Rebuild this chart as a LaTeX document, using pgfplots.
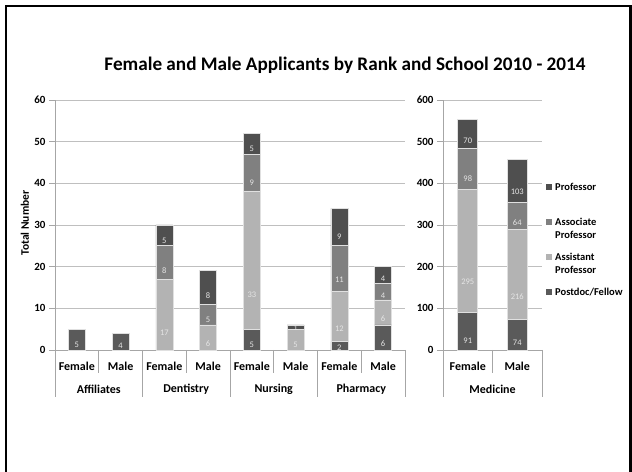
\documentclass[border=0pt]{standalone}
\usepackage{fontspec}
\setmainfont{Carlito}
\usepackage{pgfplots}
\pgfplotsset{compat=1.18}
\usepackage{pgfplotstable}

\definecolor{cPost}{HTML}{5A5A5A}
\definecolor{cAsst}{HTML}{B3B3B3}
\definecolor{cAssoc}{HTML}{808080}
\definecolor{cProf}{HTML}{4F4F4F}
\definecolor{cGrid}{HTML}{BFBFBF}
\definecolor{cAxis}{HTML}{A6A6A6}

% columns: slot, Postdoc/Fellow, Assistant, Associate, Professor
\pgfplotstableread{
x pd as ao pr
0 5 0 0 0
1 4 0 0 0
2 0 17 8 5
3 0 6 5 8
4 5 33 9 5
5 0 5 0 1
6 2 12 11 9
7 6 6 4 4
}\leftdata

\pgfplotstableread{
x pd as ao pr
0 91 295 98 70
1 74 216 64 103
}\meddata

\newcommand\tickfont{\fontsize{11bp}{13bp}\selectfont\bfseries}
\newcommand\catfont{\fontsize{12bp}{14bp}\selectfont\bfseries}

\pgfplotsset{
  appl/.style={
    scale only axis, height=250bp,
    ybar stacked, ymin=0,
    axis x line*=bottom, axis y line*=left,
    axis line style={cAxis, line width=0.8bp},
    every inner x axis line/.append style={-},
    every inner y axis line/.append style={-},
    every outer x axis line/.append style={-},
    every outer y axis line/.append style={-},
    x axis line style={-}, y axis line style={-},
    ymajorgrids, grid style={cGrid, line width=0.8bp},
    ytick align=outside, major tick length=6bp,
    ytick style={cAxis, line width=0.8bp},
    xtick style={draw=none},
    /pgf/number format/assume math mode=true,
    yticklabel style={font=\tickfont},
    yticklabel={\textbf{\pgfmathprintnumber{\tick}}},
    xticklabel style={font=\catfont, yshift=-9bp},
    xticklabels={\textbf{Female},\textbf{Male},\textbf{Female},\textbf{Male},\textbf{Female},\textbf{Male},\textbf{Female},\textbf{Male}},
    clip=false,
    point meta=rawy,
    visualization depends on={rawy \as \myval},
    nodes near coords={\pgfmathfloatifflags{\pgfplotspointmeta}{0}{}{\pgfmathprintnumber{\pgfplotspointmeta}}},
    every node near coord/.append style={font=\fontsize{8.5bp}{10bp}\selectfont, text=white!90!black, anchor=center},
  },
  seg/.style={fill=#1, draw=white!88!black, line width=0.7bp},
}

\begin{document}
\begin{tikzpicture}[x=1bp,y=1bp]
\path[use as bounding box] (0,0) rectangle (632,472);
\draw[line width=2.2bp] (6,-5) -- (6,466) -- (630.5,466) -- (630.5,-5);

\node[font=\fontsize{19.2bp}{23bp}\selectfont\bfseries] at (345,407) {Female and Male Applicants by Rank and School 2010 - 2014};
\node[font=\fontsize{11.5bp}{14bp}\selectfont\bfseries, rotate=90] at (25,249) {Total Number};

\begin{axis}[appl, at={(55bp,122bp)}, anchor=south west, width=350bp,
  xmin=-0.5, xmax=7.5, ymax=60, ytick={0,10,...,60}, xtick={0,...,7},
  bar width=17bp,
  every node near coord/.append style={yshift=-1.041667bp*\myval}]
\addplot[seg=cPost] table[x=x,y=pd] {\leftdata};
\addplot[seg=cAsst] table[x=x,y=as] {\leftdata};
\addplot[seg=cAssoc] table[x=x,y=ao] {\leftdata};
\addplot[seg=cProf] table[x=x,y=pr] {\leftdata};
\pgfplotsinvokeforeach{0.5,2.5,4.5,6.5}
  {\draw[cAxis, line width=0.8bp] (axis cs:#1,0) -- ++(0pt,-23bp);}
\pgfplotsinvokeforeach{-0.5,1.5,3.5,5.5,7.5}
  {\draw[cAxis, line width=0.8bp] (axis cs:#1,0) -- ++(0pt,-47bp);}
\node[font=\catfont] at (axis cs:0.5,0) [yshift=-39bp] {Affiliates};
\node[font=\catfont] at (axis cs:2.5,0) [yshift=-39bp] {Dentistry};
\node[font=\catfont] at (axis cs:4.5,0) [yshift=-39bp] {Nursing};
\node[font=\catfont] at (axis cs:6.5,0) [yshift=-39bp] {Pharmacy};
\end{axis}

\begin{axis}[appl, at={(443bp,122bp)}, anchor=south west, width=99bp,
  xmin=-0.5, xmax=1.5, ymax=600, ytick={0,100,...,600}, xtick={0,1},
  bar width=20bp,
  every node near coord/.append style={yshift=-0.1041667bp*\myval}]
\addplot[seg=cPost] table[x=x,y=pd] {\meddata};
\addplot[seg=cAsst] table[x=x,y=as] {\meddata};
\addplot[seg=cAssoc] table[x=x,y=ao] {\meddata};
\addplot[seg=cProf] table[x=x,y=pr] {\meddata};
\draw[cAxis, line width=0.8bp] (axis cs:0.5,0) -- ++(0pt,-23bp);
\draw[cAxis, line width=0.8bp] (axis cs:-0.5,0) -- ++(0pt,-47bp);
\draw[cAxis, line width=0.8bp] (axis cs:1.5,0) -- ++(0pt,-47bp);
\node[font=\catfont] at (axis cs:0.5,0) [yshift=-39bp] {Medicine};
\end{axis}

% legend
\begin{scope}[every node/.style={font=\fontsize{10.5bp}{12bp}\selectfont\bfseries, anchor=west, inner sep=0pt}]
\fill[cProf] (546,282) rectangle ++(6,6);
\node at (555,285) {Professor};
\fill[cAssoc] (546,247) rectangle ++(6,6);
\node at (555,250) {Associate};
\node at (555,237) {Professor};
\fill[cAsst] (546,212) rectangle ++(6,6);
\node at (555,215) {Assistant};
\node at (555,202) {Professor};
\fill[cPost] (546,177) rectangle ++(6,6);
\node at (555,180) {Postdoc/Fellow};
\end{scope}
\end{tikzpicture}
\end{document}
